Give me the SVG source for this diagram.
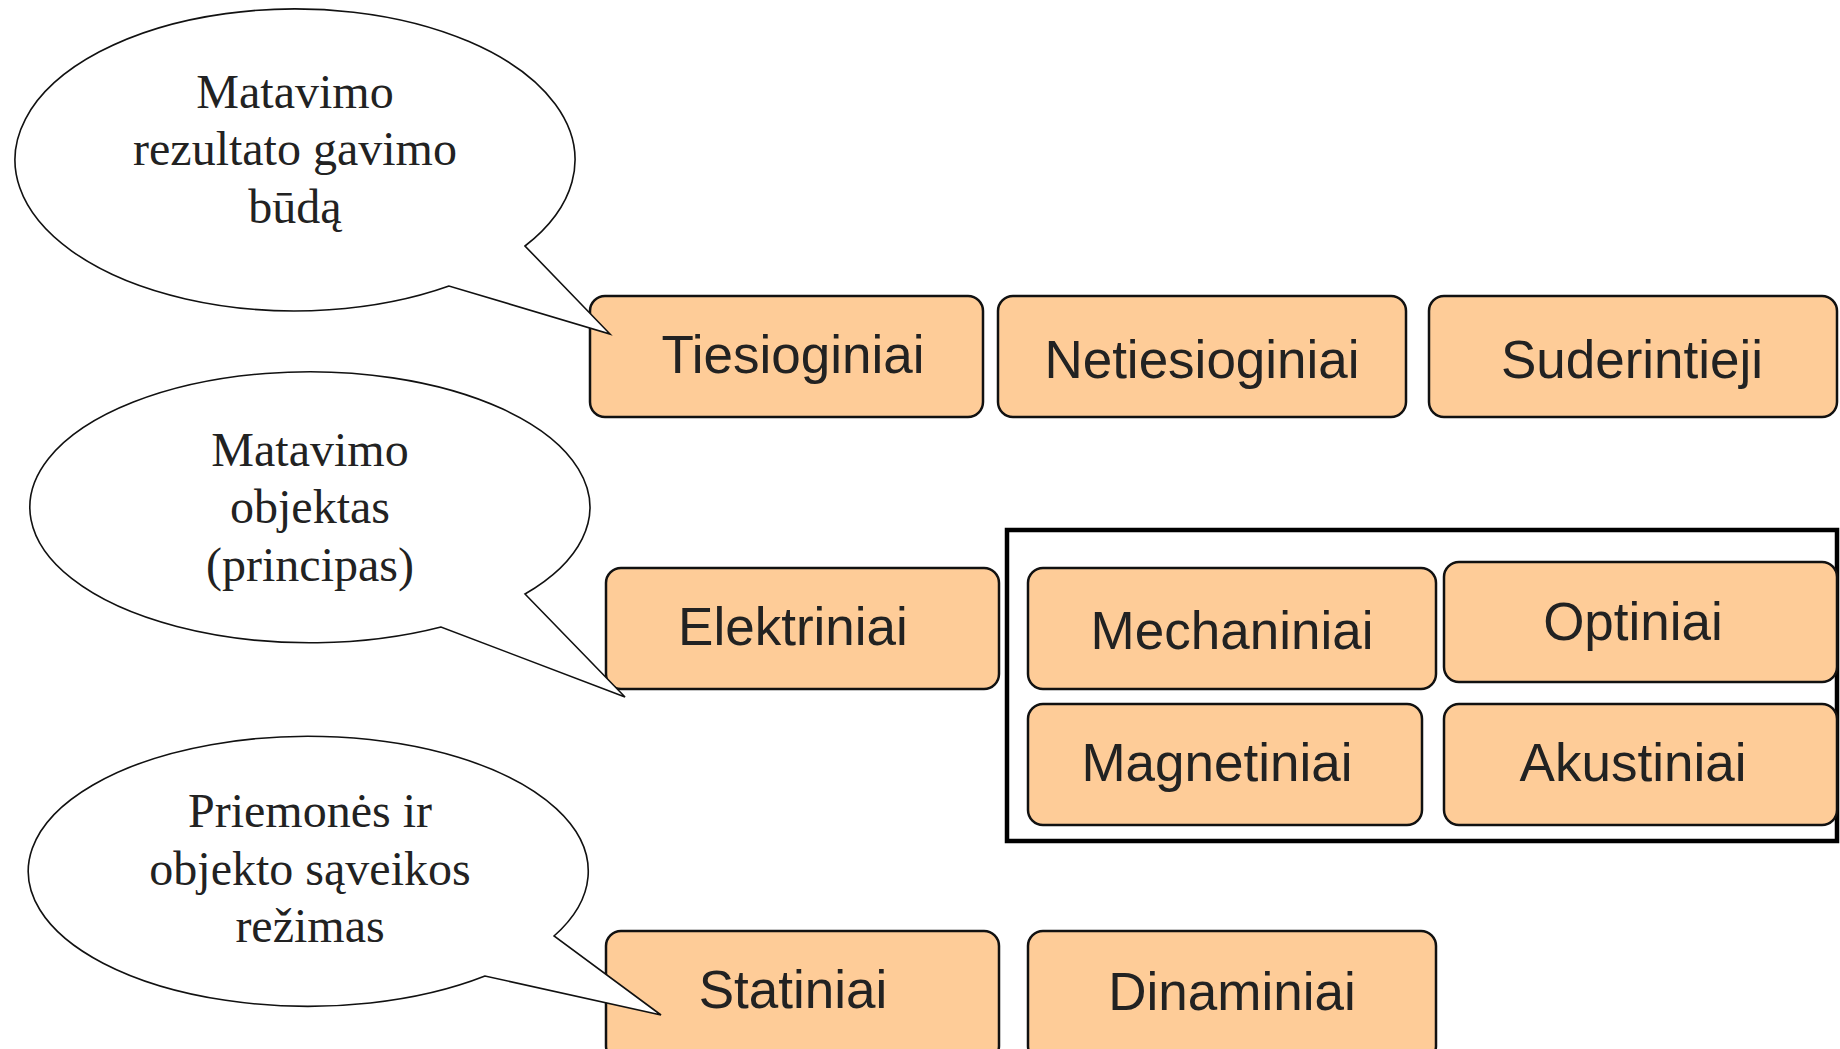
<svg xmlns="http://www.w3.org/2000/svg" width="1840" height="1049" viewBox="0 0 1840 1049">
<style>
.box{fill:#FECC98;stroke:#111;stroke-width:2.5}
.bt{font-family:"Liberation Sans",Arial,sans-serif;font-size:53px;fill:#222;text-anchor:middle}
.bub{fill:#fff;stroke:#111;stroke-width:1.6;stroke-linejoin:miter}
.et{font-family:"Liberation Serif","Times New Roman",serif;font-size:48px;fill:#222;text-anchor:middle}
</style>
<rect width="1840" height="1049" fill="#fff"/>
<g id="group-frame"><rect x="1007" y="530" width="830" height="311" fill="none" stroke="#000" stroke-width="4.5"/></g>
<g id="n-tiesioginiai"><rect class="box" x="590" y="296" width="393" height="121" rx="15"/><text class="bt" x="793" y="373">Tiesioginiai</text></g>
<g id="n-netiesioginiai"><rect class="box" x="998" y="296" width="408" height="121" rx="15"/><text class="bt" x="1202" y="378">Netiesioginiai</text></g>
<g id="n-suderintieji"><rect class="box" x="1429" y="296" width="408" height="121" rx="15"/><text class="bt" x="1632" y="378">Suderintieji</text></g>
<g id="n-elektriniai"><rect class="box" x="606" y="568" width="393" height="121" rx="15"/><text class="bt" x="793" y="645">Elektriniai</text></g>
<g id="n-mechaniniai"><rect class="box" x="1028" y="568" width="408" height="121" rx="15"/><text class="bt" x="1232" y="649">Mechaniniai</text></g>
<g id="n-optiniai"><rect class="box" x="1444" y="562" width="393" height="120" rx="15"/><text class="bt" x="1633" y="640">Optiniai</text></g>
<g id="n-magnetiniai"><rect class="box" x="1028" y="704" width="394" height="121" rx="15"/><text class="bt" x="1217" y="781">Magnetiniai</text></g>
<g id="n-akustiniai"><rect class="box" x="1444" y="704" width="393" height="121" rx="15"/><text class="bt" x="1633" y="781">Akustiniai</text></g>
<g id="n-statiniai"><rect class="box" x="606" y="931" width="393" height="130" rx="15"/><text class="bt" x="793" y="1008">Statiniai</text></g>
<g id="n-dinaminiai"><rect class="box" x="1028" y="931" width="408" height="130" rx="15"/><text class="bt" x="1232" y="1010">Dinaminiai</text></g>
<g id="connectors">
<g id="bubble-1"><path class="bub" d="M449,286 A280 151 0 1 1 525,246 L610,334 Z"/>
<text class="et" x="295" y="108">Matavimo</text><text class="et" x="295" y="165">rezultato gavimo</text><text class="et" x="295" y="223">būdą</text></g>
<g id="bubble-2"><path class="bub" d="M441,627 A280 135.5 0 1 1 525,594 L625,697 Z"/>
<text class="et" x="310" y="466">Matavimo</text><text class="et" x="310" y="523">objektas</text><text class="et" x="310" y="581">(principas)</text></g>
<g id="bubble-3"><path class="bub" d="M485,976 A280 135 0 1 1 554,936 L661,1015 Z"/>
<text class="et" x="310" y="827">Priemonės ir</text><text class="et" x="310" y="885">objekto sąveikos</text><text class="et" x="310" y="942">režimas</text></g>
</g>
</svg>
